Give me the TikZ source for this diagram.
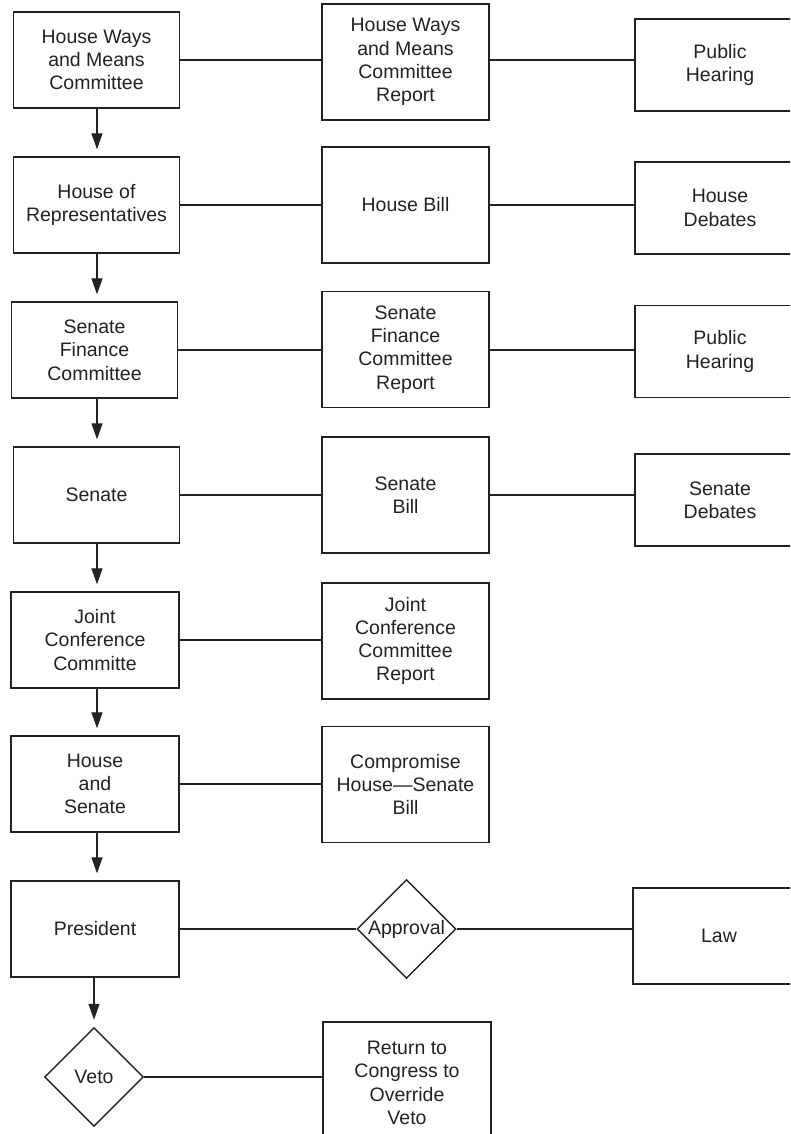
\documentclass[tikz,border=0pt]{standalone}
\usepackage{fontspec}
\setmainfont{Liberation Sans}
\usetikzlibrary{shapes.geometric,arrows.meta}
\definecolor{ink}{HTML}{222222}
\begin{document}
\begin{tikzpicture}[x=1pt,y=-1pt,
  every node/.style={font=\fontsize{19.5}{23.3}\selectfont, text=ink, align=center},
  box/.style={draw=ink, line width=1.4pt, rectangle, inner sep=0pt},
  lbox/.style={box, minimum width=166pt, minimum height=96pt},
  mbox/.style={box, minimum width=167pt, minimum height=116pt},
  rbox/.style={box, minimum width=170pt, minimum height=92pt},
  decision/.style={draw=ink, line width=1.4pt, diamond, inner sep=0pt,
    minimum width=99pt, minimum height=99pt},
  link/.style={draw=ink, line width=1.1pt},
  flow/.style={draw=ink, line width=1.3pt, -{Triangle[length=16pt,width=11pt]}, shorten >=7pt}]
\useasboundingbox (0,0) rectangle (790,1134);
\clip (0,0) rectangle (790,1134);

% left column: the chain of bodies
\node[lbox] (L1) at (96.5,60)  {House Ways\\and Means\\Committee};
\node[lbox] (L2) at (96.5,205) {House of\\Representatives};
\node[lbox] (L3) at (94.5,350) {Senate\\Finance\\Committee};
\node[lbox] (L4) at (96.5,495) {Senate};
\node[lbox, minimum width=168pt] (L5) at (95,640) {Joint\\Conference\\Committe};
\node[lbox, minimum width=168pt] (L6) at (95,784) {House\\and\\Senate};
\node[lbox, minimum width=168pt] (L7) at (95,929) {President};
\node[decision, label=center:Veto] (V) at (94,1077) {};

% middle column: documents produced
\node[mbox] (M1) at (405.5,62)    {House Ways\\and Means\\Committee\\Report};
\node[mbox] (M2) at (405.5,205)   {House Bill};
\node[mbox] (M3) at (405.5,349.5) {Senate\\Finance\\Committee\\Report};
\node[mbox] (M4) at (405.5,495)   {Senate\\Bill};
\node[mbox] (M5) at (405.5,641)   {Joint\\Conference\\Committee\\Report};
\node[mbox] (M6) at (405.5,784.5) {Compromise\\House—Senate\\Bill};
\node[decision, label=center:Approval] (A) at (406.5,929) {};
\node[mbox, minimum width=168pt, minimum height=122pt] (M8) at (407,1083)
  {Return to\\Congress to\\Override\\Veto};

% right column
\node[rbox] (R1) at (720,65)    {Public\\Hearing};
\node[rbox] (R2) at (720,208)   {House\\Debates};
\node[rbox] (R3) at (720,351.5) {Public\\Hearing};
\node[rbox] (R4) at (720,500)   {Senate\\Debates};
\node[box, minimum width=172pt, minimum height=96pt] (R7) at (719,936) {Law};

% downward flow, kept vertical on one common axis
\coordinate (axis) at (97,0);
\draw[flow] (axis |- L1.south) -- (axis |- L2.north);
\draw[flow] (axis |- L2.south) -- (axis |- L3.north);
\draw[flow] (axis |- L3.south) -- (axis |- L4.north);
\draw[flow] (axis |- L4.south) -- (axis |- L5.north);
\draw[flow] (axis |- L5.south) -- (axis |- L6.north);
\draw[flow] (axis |- L6.south) -- (axis |- L7.north);
\draw[flow] (V.north |- L7.south) -- (V.north);

% horizontal links
\draw[link] (L1.east) -- (L1.east -| M1.west);
\draw[link] (M1.east |- L1.east) -- (L1.east -| R1.west);
\draw[link] (L2.east) -- (L2.east -| M2.west);
\draw[link] (M2.east |- L2.east) -- (L2.east -| R2.west);
\draw[link] (L3.east) -- (L3.east -| M3.west);
\draw[link] (M3.east |- L3.east) -- (L3.east -| R3.west);
\draw[link] (L4.east) -- (L4.east -| M4.west);
\draw[link] (M4.east |- L4.east) -- (L4.east -| R4.west);
\draw[link] (L5.east) -- (L5.east -| M5.west);
\draw[link] (L6.east) -- (L6.east -| M6.west);
\draw[link] (L7.east) -- (A.west);
\draw[link] (A.east) -- (A.east -| R7.west);
\draw[link] (V.east) -- (V.east -| M8.west);
\end{tikzpicture}
\end{document}
